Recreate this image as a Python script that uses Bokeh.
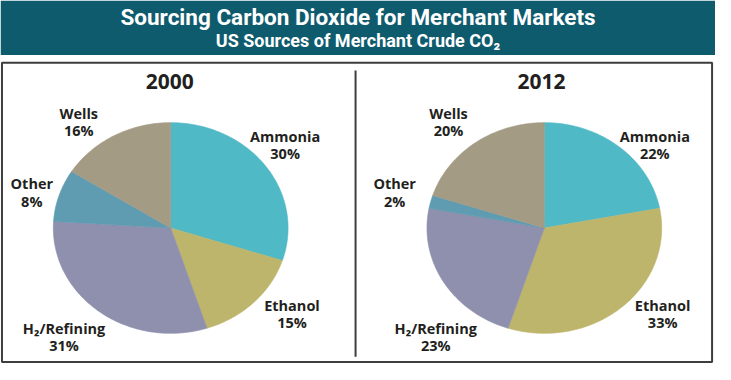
import numpy as np
from bokeh.plotting import figure
from bokeh.models import Range1d, ColumnDataSource
from bokeh.core.properties import value
from bokeh.embed import file_html
from bokeh.resources import INLINE

# ---------------- data ----------------
title_text = "Sourcing Carbon Dioxide for Merchant Markets"
subtitle_text = "US Sources of Merchant Crude CO₂"
sources = ["Ammonia", "Ethanol", "H₂/Refining", "Other", "Wells"]
years = ["2000", "2012"]
shares_2000 = [30, 15, 31, 8, 16]
shares_2012 = [22, 33, 23, 2, 20]

# ---------------- style / layout ----------------
colors = ["#4fb9c6", "#bdb56c", "#8f8fae", "#5f9cb2", "#a49b84"]
banner_color = "#0f5b6e"
text_color = "#231f20"
border_color = "#3d3d3d"
W, H = 731, 380          # reference coordinate system (pixels of the original)
pie_centers = [(174, 237.5), (556, 237.5)]
rx, ry = 120, 110
year_pos = [(173, 85), (553, 85)]
label_offsets = [
    [(117, -87), (124, 90), (-109, 114), (-142, -37), (-94, -111)],
    [(113, -87), (121, 90), (-111, 114), (-153, -37), (-98, -111)],
]
FONT = "Open Sans"
TITLE_FONT = "Roboto"

p = figure(width=715, height=364, output_backend="svg", toolbar_location=None,
           x_range=Range1d(0, W), y_range=Range1d(H, 0),
           x_axis_type=None, y_axis_type=None, min_border=0,
           background_fill_color="white", border_fill_color="white")
p.outline_line_color = None
p.grid.visible = False

# banner
p.quad(left=[0], right=[W], top=[0], bottom=[57], fill_color=banner_color, line_color=None)
p.text(x=[W / 2], y=[17], text=[title_text], text_color="white",
       text_font=value(TITLE_FONT), text_font_style="bold", text_font_size="22.5px",
       text_align="center", text_baseline="middle")
p.text(x=[W / 2], y=[41.5], text=[subtitle_text], text_color="white",
       text_font=value(TITLE_FONT), text_font_style="bold", text_font_size="18px",
       text_align="center", text_baseline="middle")

# frame + divider
p.quad(left=[1.5], right=[727.5], top=[65], bottom=[377.5], fill_color=None,
       line_color=border_color, line_width=2)
p.segment(x0=[363], y0=[73], x1=[363], y1=[372], line_color=border_color, line_width=2)

# pies as elliptical patches
for (cx, cy), shares, year, ypos, offs in zip(pie_centers, [shares_2000, shares_2012],
                                                years, year_pos, label_offsets):
    total = float(sum(shares))
    cum = np.concatenate([[0], np.cumsum(shares)]) / total * 2 * np.pi
    xs, ys = [], []
    for a0, a1 in zip(cum[:-1], cum[1:]):
        n = max(3, int((a1 - a0) / (2 * np.pi) * 240))
        t = np.linspace(a0, a1, n)
        xs.append([cx] + list(cx + rx * np.sin(t)))
        ys.append([cy] + list(cy - ry * np.cos(t)))
    src = ColumnDataSource(dict(xs=xs, ys=ys, color=colors))
    p.patches("xs", "ys", source=src, fill_color="color", line_color="color", line_width=0.6)

    p.text(x=[ypos[0]], y=[ypos[1]], text=[year], text_color=text_color,
           text_font=value(FONT), text_font_style="bold", text_font_size="21px",
           text_align="center", text_baseline="middle")

    lx = [cx + dx for dx, dy in offs]
    ly = [cy + dy for dx, dy in offs]
    lsrc = ColumnDataSource(dict(
        x=lx, y1=[v - 9 for v in ly], y2=[v + 9 for v in ly],
        name=sources, pct=[f"{s}%" for s in shares]))
    for col, ycol in (("name", "y1"), ("pct", "y2")):
        p.text(x="x", y=ycol, text=col, source=lsrc, text_color=text_color,
               text_font=value(FONT), text_font_style="bold", text_font_size="14.5px",
               text_align="center", text_baseline="middle")

open("out.html", "w").write(file_html(p, INLINE))
